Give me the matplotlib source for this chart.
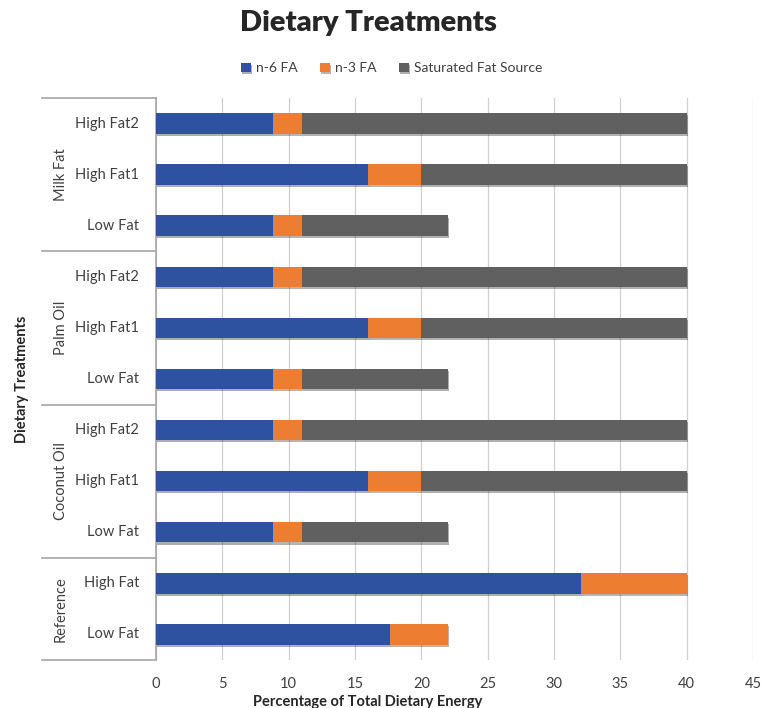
import numpy as np
import matplotlib.pyplot as plt
import matplotlib.transforms as mtransforms
import matplotlib.patheffects as pe

plt.rcParams['font.family'] = ['Lato', 'DejaVu Sans']

# treatments listed top to bottom
groups = ['Milk Fat', 'Palm Oil', 'Coconut Oil', 'Reference']
group_sizes = [3, 3, 3, 2]
labels = ['High Fat2', 'High Fat1', 'Low Fat',
          'High Fat2', 'High Fat1', 'Low Fat',
          'High Fat2', 'High Fat1', 'Low Fat',
          'High Fat', 'Low Fat']
n6 = [8.8, 16, 8.8, 8.8, 16, 8.8, 8.8, 16, 8.8, 32, 17.6]
n3 = [2.2, 4, 2.2, 2.2, 4, 2.2, 2.2, 4, 2.2, 8, 4.4]
sat = [29, 20, 11, 29, 20, 11, 29, 20, 11, 0, 0]

c_n6 = '#2F52A0'
c_n3 = '#ED7D31'
c_sat = '#606060'

fig = plt.figure(figsize=(7.63, 7.08), dpi=100)
ax = fig.add_axes([0.2045, 0.0678, 0.7825, 0.7938])

y = np.arange(len(labels))
h = 0.4
shadow = [pe.SimplePatchShadow(offset=(1, -1.5), alpha=0.35), pe.Normal()]
n6 = np.array(n6); n3 = np.array(n3); sat = np.array(sat)
b1 = ax.barh(y, n6, height=h, color=c_n6, label='n-6 FA', zorder=3)
b2 = ax.barh(y, n3, left=n6, height=h, color=c_n3, label='n-3 FA', zorder=3)
b3 = ax.barh(y, sat, left=n6 + n3, height=h, color=c_sat,
             label='Saturated Fat Source', zorder=3)
for bars in (b1, b2, b3):
    for p in bars:
        p.set_path_effects(shadow)

ax.set_ylim(len(labels) - 0.5, -0.5)
ax.set_xlim(0, 45)
ax.set_xticks(np.arange(0, 50, 5))
ax.tick_params(axis='x', length=0, labelsize=10.5, colors='#404040', pad=12)
ax.set_yticks([])
ax.grid(axis='x', color='#d0d0d0', linewidth=0.9, zorder=0)
for s in ['top', 'right', 'bottom']:
    ax.spines[s].set_visible(False)
ax.spines['left'].set_color('#a6a6a6')
ax.spines['left'].set_linewidth(1.2)

ax.set_xlabel('Percentage of Total Dietary Energy', fontsize=10.5,
              fontweight='bold', color='#262626', labelpad=3, x=0.355)

# category axis: row labels, group labels and separator lines
tr = mtransforms.blended_transform_factory(ax.transAxes, ax.transData)
for yi, lab in zip(y, labels):
    ax.text(-0.028, yi, lab, transform=tr, ha='right', va='center',
            fontsize=10.5, color='#404040')

start = 0
bounds = [-0.5]
for g, n in zip(groups, group_sizes):
    mid = start + (n - 1) / 2
    ax.text(-0.16, mid, g, transform=tr, rotation=90, ha='center',
            va='center', fontsize=10.5, color='#404040')
    start += n
    bounds.append(start - 0.5)
for b in bounds:
    ax.plot([-0.191, 0], [b, b], transform=tr, color='#a6a6a6',
            linewidth=1.2, clip_on=False)

ax.text(-0.225, 0.5, 'Dietary Treatments', transform=ax.transAxes,
        rotation=90, ha='center', va='center', fontsize=10.5,
        fontweight='bold', color='#262626')

fig.text(0.483, 0.968, 'Dietary Treatments', ha='center', va='center',
         fontsize=21, fontweight='heavy', color='#262626')
ax.legend(loc='lower center', bbox_to_anchor=(0.395, 1.02), ncol=3,
          frameon=False, fontsize=10, handlelength=0.7, handleheight=0.7,
          handletextpad=0.4, columnspacing=1.6, labelcolor='#404040')

fig.savefig('out.png', dpi=100)
